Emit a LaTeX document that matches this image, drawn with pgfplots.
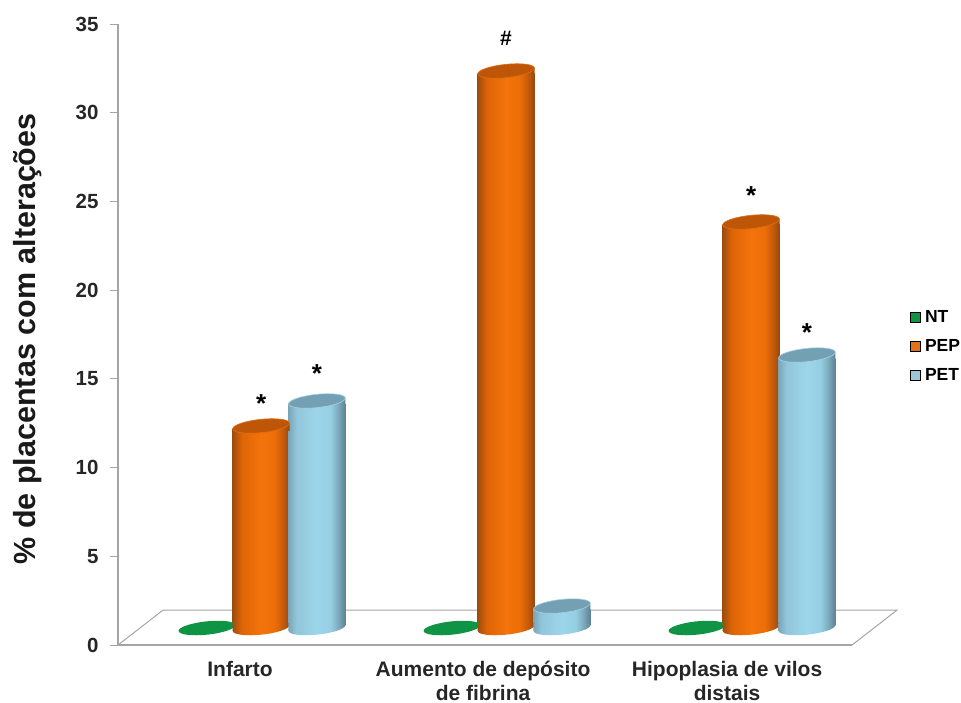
\documentclass[border=0pt]{standalone}
\usepackage{pgfplots}
\usepackage{pgfplotstable}
\usepackage{fontspec}
\setmainfont{Liberation Sans}
\pgfplotsset{compat=1.18}

\definecolor{axisgray}{RGB}{165,165,165}
\definecolor{ntgreen}{RGB}{14,148,68}
\definecolor{legpep}{RGB}{226,114,26}
\definecolor{legpet}{RGB}{156,196,214}
\definecolor{captopo}{RGB}{190,86,8}
\definecolor{rimo}{RGB}{225,110,20}
\definecolor{captopb}{RGB}{116,160,180}
\definecolor{rimb}{RGB}{165,210,228}

\definecolor{oa}{RGB}{158,76,14}
\definecolor{ob}{RGB}{222,100,8}
\definecolor{oc}{RGB}{244,116,10}
\definecolor{od}{RGB}{236,110,8}
\definecolor{oe}{RGB}{190,88,10}
\definecolor{of}{RGB}{150,72,14}
\definecolor{ba}{RGB}{122,166,184}
\definecolor{bb}{RGB}{146,198,218}
\definecolor{bc}{RGB}{156,214,234}
\definecolor{bd}{RGB}{150,206,226}
\definecolor{be}{RGB}{122,168,186}
\definecolor{bf}{RGB}{92,130,146}

% cylinder surfaces: the 25bp to 75bp range spans the shape's width
\pgfdeclarehorizontalshading{cylorange}{100bp}{
  color(0bp)=(oa); color(25bp)=(oa); color(33bp)=(ob); color(50bp)=(oc);
  color(62bp)=(od); color(70bp)=(oe); color(75bp)=(of); color(100bp)=(of)}
\pgfdeclarehorizontalshading{cylblue}{100bp}{
  color(0bp)=(ba); color(25bp)=(ba); color(32bp)=(bb); color(50bp)=(bc);
  color(62bp)=(bd); color(69bp)=(be); color(75bp)=(bf); color(100bp)=(bf)}

% a slightly tilted ellipse, written as four Bezier arcs; tip and height offsets by centre level
\newcommand\capellipse{(28.35pt,6pt)
  .. controls (27.96pt,9.65pt) and (14.96pt,11.26pt) .. (-0.7pt,9.6pt)
  .. controls (-16.36pt,7.94pt) and (-28.74pt,3.65pt) .. (-28.35pt,0pt)
  .. controls (-27.96pt,-3.65pt) and (-14.96pt,-5.26pt) .. (0.7pt,-3.6pt)
  .. controls (16.36pt,-1.94pt) and (28.74pt,2.35pt) .. (28.35pt,6pt) -- cycle}
\newcommand\baseellipse{(28.35pt,0pt)
  .. controls (27.96pt,3.65pt) and (14.96pt,5.26pt) .. (-0.7pt,3.6pt)
  .. controls (-16.36pt,1.94pt) and (-28.74pt,-2.35pt) .. (-28.35pt,-6pt)
  .. controls (-27.96pt,-9.65pt) and (-14.96pt,-11.26pt) .. (0.7pt,-9.6pt)
  .. controls (16.36pt,-7.94pt) and (28.74pt,-3.65pt) .. (28.35pt,0pt) -- cycle}

% the plotted value sits at the low (left) tip of the top cap
\pgfdeclareplotmark{capO}{%
  \path[draw=none,shade,shading=cylorange] (-28.5pt,0pt) -- (28.5pt,6pt) -- (28.5pt,-2pt) -- (-28.5pt,-2pt) -- cycle;
  \path[fill=captopo,draw=rimo,line width=0.6pt] \capellipse;}
\pgfdeclareplotmark{capB}{%
  \path[draw=none,shade,shading=cylblue] (-28.5pt,0pt) -- (28.5pt,6pt) -- (28.5pt,-2pt) -- (-28.5pt,-2pt) -- cycle;
  \path[fill=captopb,draw=rimb,line width=0.6pt] \capellipse;}
\pgfdeclareplotmark{baseO}{%
  \path[draw=none,shade,shading=cylorange] (-28.5pt,1pt) -- (28.5pt,1pt) -- (28.5pt,0pt) -- (-28.5pt,-6pt) -- cycle;
  \path[draw=none,shade,shading=cylorange] \baseellipse;}
\pgfdeclareplotmark{baseB}{%
  \path[draw=none,shade,shading=cylblue] (-28.5pt,1pt) -- (28.5pt,1pt) -- (28.5pt,0pt) -- (-28.5pt,-6pt) -- cycle;
  \path[draw=none,shade,shading=cylblue] \baseellipse;}
\pgfdeclareplotmark{flatG}{%
  \path[draw=none,fill=ntgreen] \baseellipse;}

% each cylinder body is its own plot, so that its shading spans one bar
\pgfplotsset{
  row 0/.style={skip coords between index={1}{3}},
  row 1/.style={skip coords between index={0}{1},skip coords between index={2}{3}},
  row 2/.style={skip coords between index={0}{2}},
  body/.style={ybar,bar width=57pt,draw=none,shade,shading=#1},
}

% x is the category (0, 1, 2) plus the place of the bar inside its group
\pgfplotstableread{
x      y
-0.135 0
0.865  0
1.865  0
}\tableNT
\pgfplotstableread{
x     y
0.086 11.05
1.086 31.06
2.086 22.55
}\tablePEP
\pgfplotstableread{
x     y
0.314 12.46
1.314 0.9
2.314 15.05
}\tablePET

\begin{document}
\begin{tikzpicture}[x=1pt,y=1pt]
\path[use as bounding box] (0,0) rectangle (961,702);

% scale, floor and category names
\begin{axis}[
  at={(118pt,57pt)},anchor=south west,
  scale only axis,x=245pt,y=17.74pt,
  xmin=-0.498,xmax=2.682,ymin=0,ymax=35,
  axis y line=left,axis x line=bottom,
  axis line style={-},
  y axis line style={axisgray,line width=1.6pt},
  x axis line style={draw=none},
  ytick={0,5,...,35},
  xtick={0,0.992,1.988},
  xticklabels={Infarto,{Aumento de depósito\\de fibrina},{Hipoplasia de vilos\\distais}},
  tick align=outside,
  major tick length=8pt,
  ytick style={axisgray,line width=1pt},
  xtick style={draw=none},
  /pgf/number format/assume math mode=true,
  yticklabel style={font=\fontsize{20.5}{24}\selectfont\bfseries,text=black!85,xshift=-8pt},
  xticklabel style={font=\fontsize{21}{24}\selectfont\bfseries,text=black!85,align=center,yshift=-5pt},
  ylabel={\% de placentas com alterações},
  ylabel style={at={(axis description cs:-0.1165,0.493)},anchor=center,font=\fontsize{30.5}{34}\selectfont\bfseries,text=black!90},
  clip=false,
]
\addplot[draw=axisgray,line width=1pt] coordinates {(-0.498,0) (-0.314,1.97) (2.682,1.97) (2.498,0)};
\addplot[draw=axisgray,line width=1.6pt] coordinates {(-0.498,0) (2.498,0)};
\end{axis}

% cylinders, standing on the floor 20 units of length above the front edge
\begin{axis}[
  at={(118pt,57pt)},anchor=south west,
  scale only axis,x=245pt,y=17.74pt,
  xmin=-0.498,xmax=2.682,ymin=-1.127,ymax=33.873,
  hide axis,clip=false,
  legend style={at={(1.012,0.481)},anchor=west,draw=none,fill=none,
    font=\fontsize{17.5}{20}\selectfont\bfseries,row sep=11.5pt,
    /tikz/every odd column/.append style={column sep=3pt}},
  legend cell align=left,
  legend entries={NT,PEP,PET},
]
\addlegendimage{legend image code/.code={\fill[fill=ntgreen] (0pt,-5pt) rectangle (10pt,5pt);}}
\addlegendimage{legend image code/.code={\fill[fill=legpep] (0pt,-5pt) rectangle (10pt,5pt);}}
\addlegendimage{legend image code/.code={\fill[fill=legpet] (0pt,-5pt) rectangle (10pt,5pt);}}

\addplot[only marks,mark=flatG] table {\tableNT};

\addplot[only marks,mark=baseO] table[y expr=0] {\tablePEP};
\addplot[body=cylorange,row 0] table {\tablePEP};
\addplot[body=cylorange,row 1] table {\tablePEP};
\addplot[body=cylorange,row 2] table {\tablePEP};
\addplot[only marks,mark=capO] table {\tablePEP};

\addplot[only marks,mark=baseB] table[y expr=0] {\tablePET};
\addplot[body=cylblue,row 0] table {\tablePET};
\addplot[body=cylblue,row 1] table {\tablePET};
\addplot[body=cylblue,row 2] table {\tablePET};
\addplot[only marks,mark=capB] table {\tablePET};

\node[inner sep=0pt,font=\fontsize{26}{26}\selectfont\bfseries] at (axis cs:0.086,12.49) {*};
\node[inner sep=0pt,font=\fontsize{26}{26}\selectfont\bfseries] at (axis cs:0.314,14.19) {*};
\node[inner sep=0pt,font=\fontsize{21}{21}\selectfont\bfseries] at (axis cs:1.086,33.06) {\#};
\node[inner sep=0pt,font=\fontsize{26}{26}\selectfont\bfseries] at (axis cs:2.086,24.19) {*};
\node[inner sep=0pt,font=\fontsize{26}{26}\selectfont\bfseries] at (axis cs:2.314,16.49) {*};
\end{axis}
\end{tikzpicture}
\end{document}
